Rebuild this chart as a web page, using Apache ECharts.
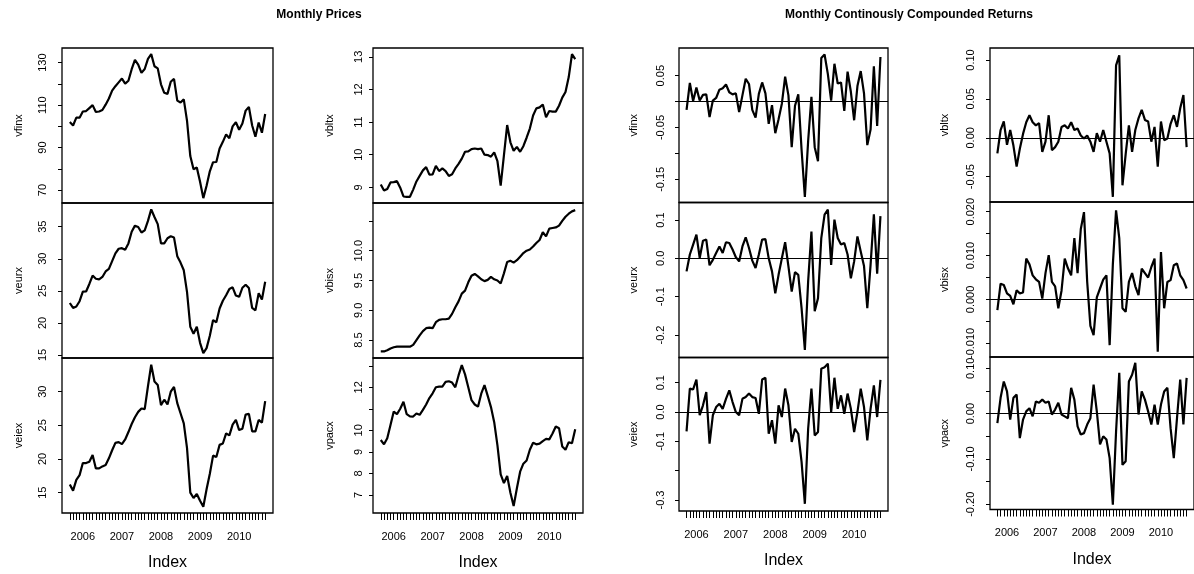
<!DOCTYPE html>
<html><head><meta charset="utf-8">
<script src="https://cdn.jsdelivr.net/npm/echarts@6/dist/echarts.min.js"></script>
<style>html,body{margin:0;padding:0;background:#fff}#c{width:1194px;height:574px}</style>
</head><body><div id="c"></div>
<script>
const priceMonths = ['2005-09','2005-10','2005-11','2005-12',
'2006-01','2006-02','2006-03','2006-04','2006-05','2006-06','2006-07','2006-08','2006-09','2006-10','2006-11','2006-12',
'2007-01','2007-02','2007-03','2007-04','2007-05','2007-06','2007-07','2007-08','2007-09','2007-10','2007-11','2007-12',
'2008-01','2008-02','2008-03','2008-04','2008-05','2008-06','2008-07','2008-08','2008-09','2008-10','2008-11','2008-12',
'2009-01','2009-02','2009-03','2009-04','2009-05','2009-06','2009-07','2009-08','2009-09','2009-10','2009-11','2009-12',
'2010-01','2010-02','2010-03','2010-04','2010-05','2010-06','2010-07','2010-08','2010-09'];
const returnMonths = priceMonths.slice(1);

const vfinxPrice = [102.0,100.4,104.1,104.1,107.0,107.2,108.6,110.0,106.8,107.0,
 107.7,110.2,113.1,116.8,118.9,120.7,122.5,120.1,121.5,126.9,
 131.3,129.1,125.2,127.0,131.8,134.0,128.3,127.3,119.8,115.8,
 115.3,121.0,122.4,112.1,111.2,112.7,102.6,86.0,79.8,80.6,
 73.9,66.2,72.0,78.8,83.1,83.2,89.6,92.7,96.2,94.4,
 100.0,101.9,98.4,101.3,107.4,109.1,100.4,95.1,101.8,97.0,
 105.8];
const veurxPrice = [23.10,22.33,22.55,23.38,24.87,24.90,26.07,27.38,26.89,26.78,
 27.16,28.02,28.41,29.63,30.84,31.56,31.65,31.40,32.39,34.22,
 35.16,34.95,34.09,34.43,35.9,37.7,36.5,35.4,32.4,32.4,
 33.2,33.5,33.3,30.4,29.4,28.2,24.8,19.4,18.3,19.4,
 16.9,15.3,16.07,18.01,20.44,20.10,22.24,23.45,24.31,25.30,
 25.55,24.26,24.07,25.48,25.94,25.43,22.33,21.95,24.63,23.66,
 26.41];
const veiexPrice = [16.2,15.3,16.9,17.6,19.4,19.4,19.6,20.6,18.6,18.6,
 18.9,19.1,20.1,21.3,22.4,22.5,22.2,22.9,24.0,25.2,
 26.2,27.0,27.5,27.4,30.8,34.0,31.5,31.0,28.0,28.8,
 28.1,30.0,30.7,28.3,26.8,25.3,21.6,15.0,14.2,14.8,
 13.8,12.9,15.5,17.8,20.5,20.3,22.1,22.3,23.8,23.5,
 25.1,25.8,24.3,24.5,26.6,26.7,24.1,24.1,25.8,25.4,
 28.6];
const vbltxPrice = [9.09,8.90,8.95,9.15,9.16,9.19,8.99,8.72,8.71,8.71,
 8.93,9.18,9.35,9.52,9.62,9.39,9.40,9.66,9.50,9.58,
 9.50,9.35,9.40,9.58,9.72,9.88,10.09,10.10,10.17,10.19,
 10.17,10.19,10.00,9.99,9.94,10.07,9.80,9.05,9.98,10.91,
 10.38,10.12,10.24,10.09,10.26,10.52,10.80,11.20,11.42,11.45,
 11.54,11.15,11.34,11.32,11.32,11.50,11.75,11.92,12.38,13.08,
 12.93];
const vbisxPrice = [8.31,8.31,8.33,8.36,8.38,8.39,8.39,8.39,8.39,8.39,
 8.42,8.50,8.58,8.65,8.70,8.71,8.70,8.80,8.84,8.85,
 8.85,8.86,8.94,9.05,9.15,9.28,9.33,9.47,9.58,9.61,
 9.57,9.52,9.49,9.51,9.56,9.52,9.50,9.45,9.62,9.81,
 9.83,9.80,9.84,9.90,9.96,10.00,10.02,10.07,10.13,10.18,
 10.31,10.24,10.37,10.38,10.39,10.42,10.50,10.57,10.62,10.66,
 10.68];
const vpacxPrice = [9.55,9.35,9.63,10.25,10.87,10.75,11.00,11.33,10.75,10.65,
 10.64,10.78,10.72,10.95,11.20,11.50,11.72,12.00,12.03,12.03,
 12.25,12.28,12.22,12.00,12.55,13.03,12.60,12.00,11.40,11.20,
 11.10,11.70,12.10,11.60,11.08,10.38,9.30,7.95,7.55,7.88,
 7.10,6.48,7.31,8.08,8.45,8.60,9.10,9.42,9.35,9.38,
 9.50,9.60,9.58,9.85,10.18,10.10,9.25,9.10,9.45,9.40,
 10.05];

const vfinxRet = [-0.016,0.036,0.001,0.027,0.002,0.013,0.014,-0.030,0.002,0.007,
 0.023,0.026,0.033,0.018,0.014,0.016,-0.020,0.012,0.044,0.034,
 -0.016,-0.031,0.015,0.037,0.016,-0.043,-0.007,-0.061,-0.034,-0.004,
 0.048,0.012,-0.088,-0.008,0.014,-0.093,-0.184,-0.076,0.009,-0.088,
 -0.115,0.084,0.091,0.053,0.002,0.073,0.035,0.037,-0.018,0.058,
 0.019,-0.036,0.030,0.059,0.016,-0.084,-0.054,0.068,-0.047,0.086];
const veurxRet = [-0.034,0.010,0.036,0.062,0.001,0.046,0.049,-0.018,-0.004,0.014,
 0.031,0.014,0.042,0.040,0.023,0.003,-0.008,0.031,0.055,0.027,
 -0.006,-0.025,0.010,0.049,0.050,0.000,-0.034,-0.091,-0.043,0.000,
 0.042,-0.021,-0.087,-0.036,-0.043,-0.130,-0.239,-0.060,0.070,-0.138,
 -0.104,0.053,0.114,0.127,-0.017,0.101,0.053,0.036,0.040,0.010,
 -0.052,-0.008,0.057,0.018,-0.020,-0.130,-0.017,0.115,-0.040,0.110];
const veiexRet = [-0.066,0.080,0.077,0.111,-0.011,0.023,0.068,-0.108,-0.011,0.017,
 0.028,0.011,0.045,0.074,0.034,0.000,-0.011,0.045,0.051,0.063,
 0.051,0.048,-0.006,0.111,0.117,-0.074,-0.028,-0.108,0.023,-0.017,
 0.080,0.023,-0.102,-0.057,-0.074,-0.170,-0.313,-0.057,0.080,-0.080,
 -0.068,0.148,0.153,0.165,0.000,0.117,0.011,0.057,-0.006,0.063,
 0.011,-0.068,0.000,0.080,0.017,-0.097,0.011,0.091,-0.017,0.110];
const vbltxRet = [-0.020,0.010,0.021,-0.009,0.010,-0.010,-0.037,-0.014,0.005,0.020,
 0.029,0.020,0.016,0.019,-0.018,-0.005,0.029,-0.016,-0.012,-0.005,
 0.014,0.016,0.012,0.020,0.010,0.012,0.003,-0.001,0.003,-0.005,
 -0.018,0.006,-0.005,0.010,-0.005,-0.020,-0.076,0.093,0.106,-0.061,
 -0.021,0.016,-0.018,0.010,0.025,0.036,0.023,0.021,-0.005,0.014,
 -0.037,0.021,-0.003,-0.001,0.018,0.029,0.014,0.038,0.055,-0.012];
const vbisxRet = [-0.0024,0.0036,0.0033,0.0014,0.0008,-0.0011,0.0021,0.0014,0.0016,0.0093,
 0.0080,0.0055,0.0046,0.0040,0.0002,0.0060,0.0101,0.0040,0.0030,-0.0020,
 0.0020,0.0093,0.0071,0.0055,0.0140,0.0060,0.0160,0.0199,0.0040,-0.0060,
 -0.0081,0.0005,0.0025,0.0045,0.0055,-0.0104,0.0080,0.0203,0.0140,-0.0020,
 -0.0028,0.0040,0.0060,0.0030,0.0010,0.0070,0.0060,0.0050,0.0074,0.0093,
 -0.0119,0.0108,-0.0020,0.0040,0.0044,0.0078,0.0082,0.0055,0.0044,0.0025];
const vpacxRet = [-0.021,0.035,0.071,0.049,-0.013,0.035,0.042,-0.054,-0.013,0.005,
 0.012,-0.006,0.027,0.024,0.031,0.024,0.027,-0.002,0.009,0.024,
 -0.002,-0.006,-0.010,0.057,0.031,-0.028,-0.046,-0.043,-0.024,-0.010,
 0.064,0.005,-0.068,-0.050,-0.057,-0.098,-0.201,-0.040,0.090,-0.113,
 -0.105,0.071,0.086,0.112,-0.002,0.049,0.031,0.005,-0.024,0.020,
 -0.024,0.020,0.049,0.057,-0.032,-0.098,-0.010,0.075,-0.024,0.079];

const panelTitles = ['Monthly Prices', 'Monthly Continously Compounded Returns'];
const xAxisName = 'Index';

// panel definitions: [column, row, name, values, yMin, yMax, tick values, labelled ticks, decimals]
const panels = [
 [0,0,'vfinx',vfinxPrice,63.9,136.9,[70,80,90,100,110,120,130],[70,90,110,130],0],
 [0,1,'veurx',veurxPrice,14.53,38.69,[15,20,25,30,35],[15,20,25,30,35],0],
 [0,2,'veiex',veiexPrice,11.98,35.0,[15,20,25,30],[15,20,25,30],0],
 [1,0,'vbltx',vbltxPrice,8.52,13.27,[9,10,11,12,13],[9,10,11,12,13],0],
 [1,1,'vbisx',vbisxPrice,8.2,10.8,[8.5,9,9.5,10,10.5],[8.5,9,9.5,10],1],
 [1,2,'vpacx',vpacxPrice,6.16,13.36,[7,8,9,10,11,12,13],[7,8,9,10,12],0],
 [2,0,'vfinx',vfinxRet,-0.1948,0.1035,[-0.15,-0.1,-0.05,0,0.05],[-0.15,-0.05,0.05],2],
 [2,1,'veurx',veurxRet,-0.2587,0.1457,[-0.2,-0.1,0,0.1],[-0.2,-0.1,0,0.1],1],
 [2,2,'veiex',veiexRet,-0.3375,0.186,[-0.3,-0.2,-0.1,0,0.1],[-0.3,-0.1,0,0.1],1],
 [3,0,'vbltx',vbltxRet,-0.0825,0.1154,[-0.05,0,0.05,0.1],[-0.05,0,0.05,0.1],2],
 [3,1,'vbisx',vbisxRet,-0.0131,0.0222,[-0.01,-0.005,0,0.005,0.01,0.015,0.02],[-0.01,0,0.01,0.02],3],
 [3,2,'vpacx',vpacxRet,-0.2115,0.125,[-0.2,-0.15,-0.1,-0.05,0,0.05,0.1],[-0.2,-0.1,0,0.1],2]
];

const colLeft = [62, 373, 679, 990];
const colWidth = [211, 210, 209, 208];
const rowTops = [[48,203,358],[48,203,358],[48,202.5,357.5],[48,202,357]];
const rowHeights = [[155,155,155],[155,155,155],[154.5,155,153.5],[154,155,152.5]];
const labelMargin = [14, 9, 13, 14];
const nameGap = [38, 38, 40, 40];
const FONT = '"Liberation Sans", Arial, sans-serif';
const TITLE_FONT = '"Liberation Sans Narrow", "Liberation Sans", Arial, sans-serif';

const grids = [], xAxes = [], yAxes = [], series = [];
panels.forEach((p, k) => {
  const [col,row,name,vals,ymin,ymax,ticks,labels,dec] = p;
  const isRet = col >= 2;
  const months = isRet ? returnMonths : priceMonths;
  const idx = months.map((m,i)=>i);
  const jan = idx.filter(i => months[i].endsWith('-01'));
  const bottom = row === 2;
  grids.push({left: colLeft[col], top: rowTops[col][row], width: colWidth[col], height: rowHeights[col][row],
    show: true, borderColor: '#000', borderWidth: 1.3, containLabel: false});
  xAxes.push({gridIndex: k, type: 'value',
    min: isRet ? -2.3 : -2.4, max: isRet ? months.length - 1 + 2.3 : months.length - 1 + 2.4,
    axisLine: {show: false, onZero: false}, splitLine: {show: false},
    axisTick: {show: bottom, customValues: idx, length: 7, lineStyle: {color: '#000', width: 1}},
    axisLabel: {show: bottom, customValues: jan, formatter: v => months[Math.round(v)].slice(0,4),
      margin: 18, fontSize: 11, color: '#000', fontFamily: FONT},
    name: bottom ? xAxisName : '', nameLocation: 'middle', nameGap: 42,
    nameTextStyle: {fontSize: 16, color: '#000', fontFamily: FONT}
  });
  yAxes.push({gridIndex: k, type: 'value', min: ymin, max: ymax,
    axisLine: {show: false, onZero: false}, splitLine: {show: false},
    axisTick: {show: true, customValues: ticks, length: 4, lineStyle: {color: '#000', width: 1}},
    axisLabel: {customValues: labels, rotate: 90, margin: labelMargin[col], fontSize: 11, color: '#000', fontFamily: FONT,
      formatter: v => Number(v).toFixed(dec)},
    name: name, nameLocation: 'middle', nameGap: nameGap[col], nameRotate: 90,
    nameTextStyle: {fontSize: 11, color: '#000', fontFamily: FONT}
  });
  const s = {type: 'line', xAxisIndex: k, yAxisIndex: k, showSymbol: false, silent: true, animation: false,
    lineStyle: {color: '#000', width: 2.2}, data: vals.map((v,i)=>[i,v])};
  if (isRet) {
    s.markLine = {silent: true, symbol: ['none','none'], animation: false, label: {show: false},
      lineStyle: {color: '#000', width: 1, type: 'solid'}, data: [{yAxis: 0}]};
  }
  series.push(s);
});

const chart = echarts.init(document.getElementById('c'), null, {renderer: 'canvas'});
chart.setOption({
  backgroundColor: '#fff',
  animation: false,
  grid: grids, xAxis: xAxes, yAxis: yAxes, series: series,
  graphic: [
    {type: 'text', x: 319, y: 15, style: {text: panelTitles[0], font: 'bold 12px ' + TITLE_FONT, fill: '#000', textAlign: 'center', textVerticalAlign: 'middle'}},
    {type: 'text', x: 909, y: 15, style: {text: panelTitles[1], font: 'bold 12px ' + TITLE_FONT, fill: '#000', textAlign: 'center', textVerticalAlign: 'middle'}}
  ]
});
</script></body></html>
